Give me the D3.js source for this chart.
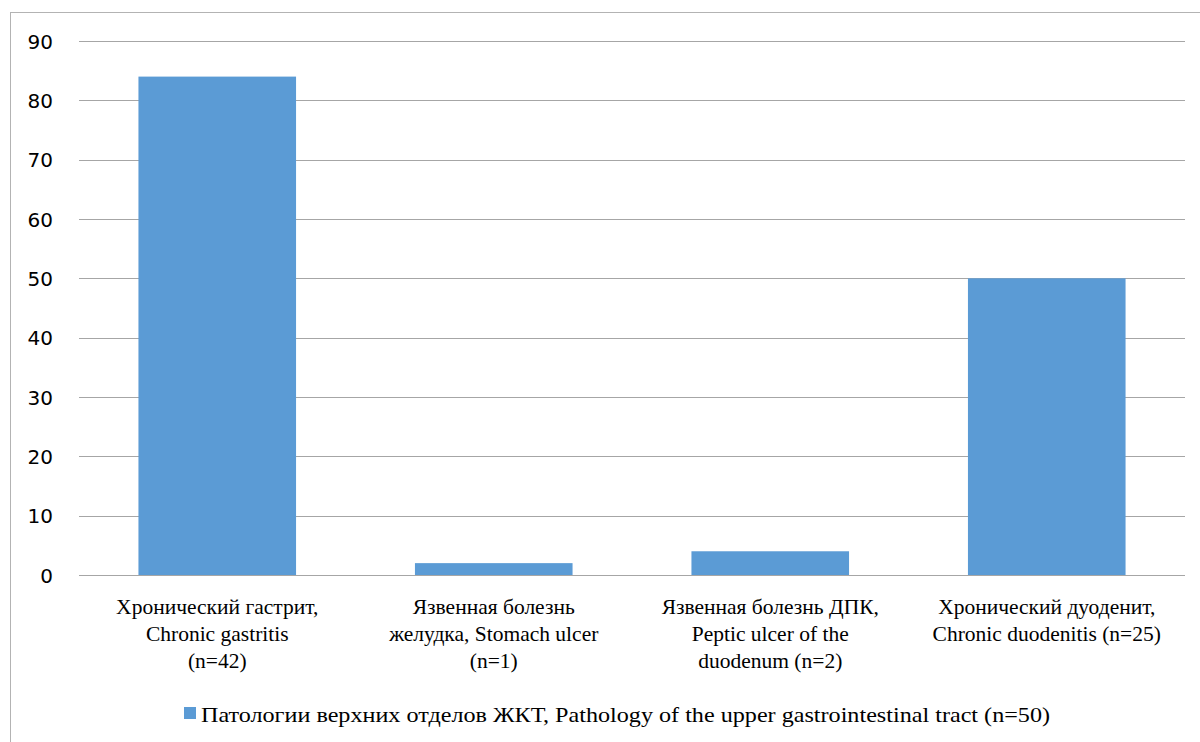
<!DOCTYPE html>
<html><head><meta charset="utf-8">
<script src="https://cdn.jsdelivr.net/npm/d3@7"></script>
</head><body style="margin:0;background:#fff">
<svg id="c" width="1200" height="742"></svg>
<script>
const categories = [
  ["Хронический гастрит,", "Chronic gastritis", "(n=42)"],
  ["Язвенная болезнь", "желудка, Stomach ulcer", "(n=1)"],
  ["Язвенная болезнь ДПК,", "Peptic ulcer of the", "duodenum (n=2)"],
  ["Хронический дуоденит,", "Chronic duodenitis (n=25)"]
];
const values = [84, 2, 4, 50];
const yTicks = [0, 10, 20, 30, 40, 50, 60, 70, 80, 90];
const seriesName = "Патологии верхних отделов ЖКТ, Pathology of the upper gastrointestinal tract (n=50)";

const serifFont = "'Liberation Serif', 'Times New Roman', serif";
const sansFont = "'DejaVu Sans', Verdana, sans-serif";

const svg = d3.select("#c");
svg.append("rect").attr("x", 10.5).attr("y", 12.5).attr("width", 1200).attr("height", 740)
  .attr("fill", "#fff").attr("stroke", "#b3b3b3").attr("stroke-width", 1);

const pL = 79, pR = 1185, pT = 41, pB = 575;
const x = d3.scaleBand().domain(d3.range(categories.length)).range([pL, pR]).paddingInner(0.43).paddingOuter(0.215);
const y = d3.scaleLinear().domain([0, 90]).range([pB, pT]);

const g = svg.append("g");
g.selectAll("line.grid").data(yTicks).join("line").attr("class", "grid")
  .attr("x1", pL).attr("x2", pR)
  .attr("y1", d => Math.round(y(d)) + 0.5).attr("y2", d => Math.round(y(d)) + 0.5)
  .attr("stroke", "#a6a6a6").attr("stroke-width", 1.2);

const yAxis = d3.axisLeft(y).tickValues(yTicks).tickSize(0).tickPadding(0);
const ya = svg.append("g").attr("transform", "translate(53,0)").call(yAxis);
ya.select(".domain").remove();
ya.selectAll("text").attr("fill", "#000").attr("dy", "0.35em")
  .style("font-family", sansFont, "important").style("font-size", "20px", "important");

g.selectAll("rect.bar").data(values).join("rect").attr("class", "bar")
  .attr("x", (d, i) => x(i)).attr("width", x.bandwidth())
  .attr("y", d => y(d)).attr("height", d => y(0) - y(d))
  .attr("fill", "#5b9bd5");

const lab = svg.append("g");
categories.forEach((lines, i) => {
  const t = lab.append("text").attr("text-anchor", "middle").attr("fill", "#000")
    .style("font-family", serifFont, "important").style("font-size", "21.5px", "important");
  lines.forEach((ln, j) => {
    t.append("tspan").attr("x", x(i) + x.bandwidth() / 2).attr("y", 614 + j * 27).text(ln);
  });
});

svg.append("rect").attr("x", 184).attr("y", 707).attr("width", 12).attr("height", 12).attr("fill", "#5b9bd5");
svg.append("text").attr("x", 201).attr("y", 722)
  .style("font-family", serifFont, "important").style("font-size", "21px", "important")
  .attr("textLength", 849).attr("lengthAdjust", "spacingAndGlyphs").attr("fill", "#000").text(seriesName);
</script>
</body></html>
